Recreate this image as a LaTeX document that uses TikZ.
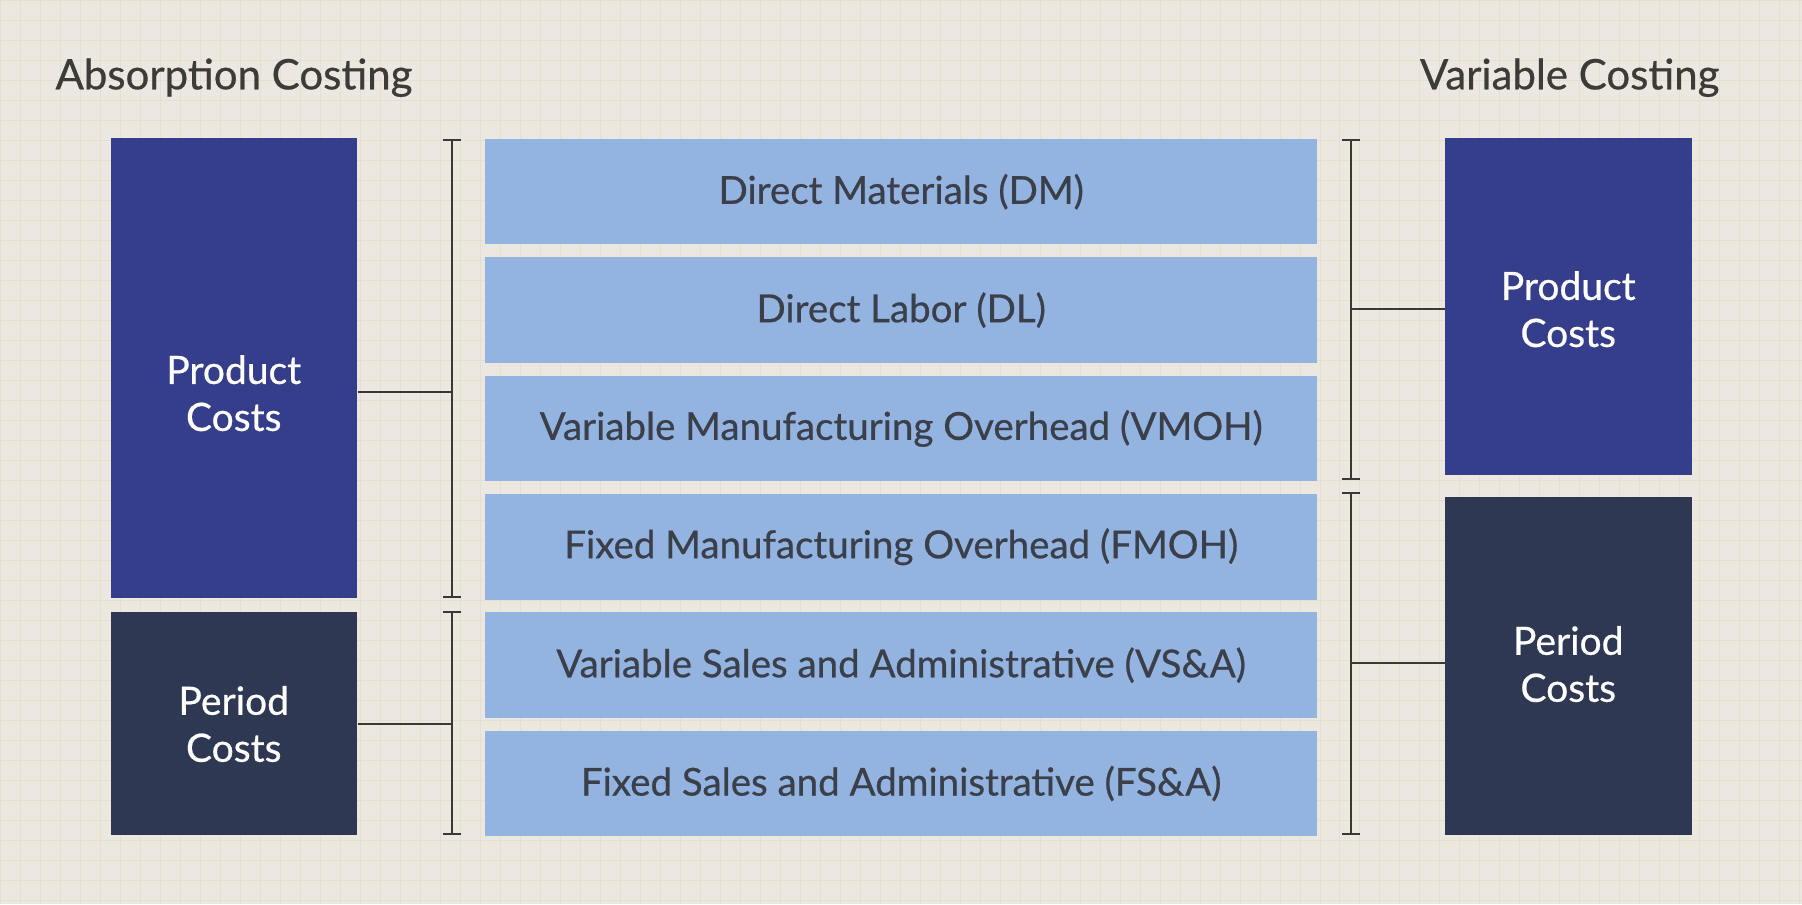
\documentclass[tikz,border=0pt]{standalone}
\usepackage{fontspec}
\setmainfont{Lato}[FakeBold=0.6]
\definecolor{bgc}{HTML}{ECE7DF}
\definecolor{gridc}{HTML}{E4DED5}
\definecolor{lightc}{HTML}{93B4E0}
\definecolor{prodc}{HTML}{353E8A}
\definecolor{perc}{HTML}{2E3852}
\definecolor{txtc}{HTML}{3B3F4A}
\definecolor{titc}{HTML}{3C3B38}
\definecolor{linec}{HTML}{3A3835}
\begin{document}
\begin{tikzpicture}[x=1pt,y=-1pt,
  costbox/.style={anchor=north west, inner sep=0pt, minimum width=832pt, minimum height=105.5pt, fill=lightc, text=txtc, font=\fontsize{38.5}{46}\selectfont},
  bigbox/.style={anchor=north west, inner sep=0pt, minimum width=247pt},
  bigtext/.style={text=white, align=center, font=\fontsize{39}{47}\selectfont, inner sep=0pt},
  titletext/.style={text=titc, font=\fontsize{42}{50}\selectfont, inner sep=0pt},
  brk/.style={draw=linec, line width=2.4pt},
  tick/.style={draw=linec, line width=2.4pt},
  conn/.style={draw=linec, line width=2.4pt}
]
\fill[bgc] (0,0) rectangle (1802,904);
\foreach \gx in {0,20,...,1800} \draw[gridc, line width=0.7pt] (\gx,0) -- (\gx,904);
\foreach \gy in {0,20,...,900} \draw[gridc, line width=0.7pt] (0,\gy) -- (1802,\gy);
\useasboundingbox (0,0) rectangle (1802,904);

% titles
\node[titletext, anchor=base west] (tabs) at (55,89) {Absorption Costing};
\node[titletext, anchor=base east] (tvar) at (1720,89) {Variable Costing};

% middle cost rows
\node[costbox] (dm)   at (485,138.5) {Direct Materials (DM)};
\node[costbox] (dl)   at (485,256.9) {Direct Labor (DL)};
\node[costbox] (vmoh) at (485,375.3) {Variable Manufacturing Overhead (VMOH)};
\node[costbox] (fmoh) at (485,493.7) {Fixed Manufacturing Overhead (FMOH)};
\node[costbox] (vsa)  at (485,612.1) {Variable Sales and Administrative (VS\&A)};
\node[costbox] (fsa)  at (485,730.5) {Fixed Sales and Administrative (FS\&A)};

% left boxes
\node[bigbox, fill=prodc, minimum height=460pt] (lpc) at (110,138) {};
\node[bigbox, fill=perc, minimum height=223pt] (lper) at (110,612) {};
\node[bigtext] (lpct) at (233.5,393) {Product\\Costs};
\node[bigtext] (lpert) at (233.5,724) {Period\\Costs};

% right boxes
\node[bigbox, fill=prodc, minimum height=337pt] (rpc) at (1445,138) {};
\node[bigbox, fill=perc, minimum height=338pt] (rper) at (1445,497) {};
\node[bigtext] (rpct) at (1568.5,309) {Product\\Costs};
\node[bigtext] (rpert) at (1568.5,664) {Period\\Costs};

% left brackets
\coordinate (la1) at (452,140);
\coordinate (la2) at (452,597);
\coordinate (lb1) at (452,612);
\coordinate (lb2) at (452,834);
\coordinate (lm1) at (452,392);
\coordinate (lm2) at (452,724);
\draw[brk] (la1) -- (la2);
\draw[brk] (lb1) -- (lb2);
\foreach \c in {la1,la2,lb1,lb2} \draw[tick] ([xshift=-9pt]\c) -- ([xshift=9pt]\c);
\draw[conn] (lm1 -| lpc.east) -- (lm1);
\draw[conn] (lm2 -| lper.east) -- (lm2);

% right brackets
\coordinate (ra1) at (1351,140);
\coordinate (ra2) at (1351,479);
\coordinate (rb1) at (1351,493);
\coordinate (rb2) at (1351,834);
\coordinate (rm1) at (1351,309);
\coordinate (rm2) at (1351,663);
\draw[brk] (ra1) -- (ra2);
\draw[brk] (rb1) -- (rb2);
\foreach \c in {ra1,ra2,rb1,rb2} \draw[tick] ([xshift=-9pt]\c) -- ([xshift=9pt]\c);
\draw[conn] (rm1) -- (rm1 -| rpc.west);
\draw[conn] (rm2) -- (rm2 -| rper.west);
\end{tikzpicture}
\end{document}
